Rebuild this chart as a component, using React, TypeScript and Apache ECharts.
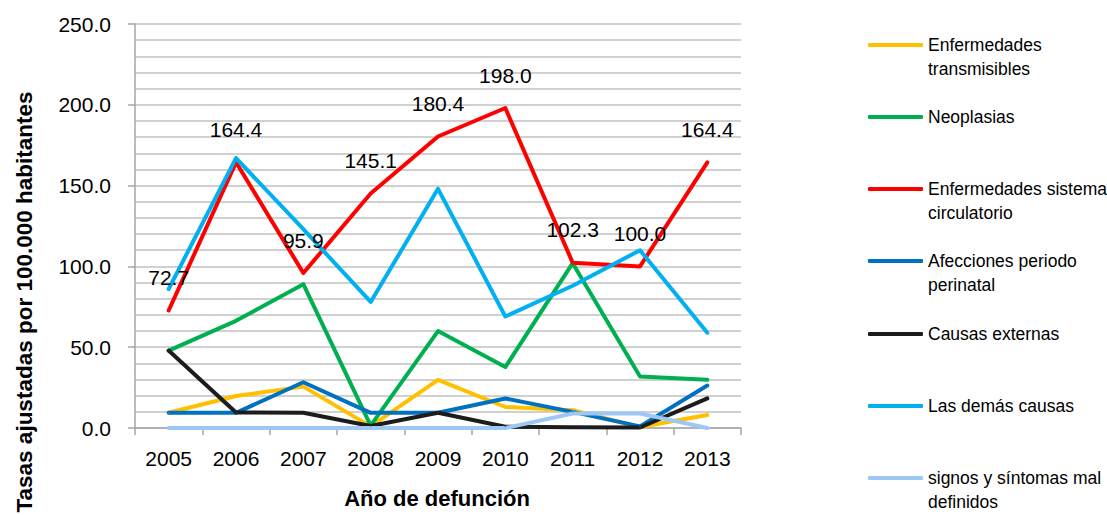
import React, { useEffect, useRef } from "react";
import * as echarts from "echarts";

const years = ["2005", "2006", "2007", "2008", "2009", "2010", "2011", "2012", "2013"];
const transmisibles = [9.4, 19.8, 25.6, 1.0, 29.8, 13.0, 11.0, 0.6, 8.0];
const neoplasias = [47.9, 66.3, 89.0, 1.5, 60.0, 37.7, 102.0, 31.9, 29.8];
const circulatorio = [72.7, 164.4, 95.9, 145.1, 180.4, 198.0, 102.3, 100.0, 164.4];
const perinatal = [9.4, 9.4, 28.3, 9.4, 9.4, 18.3, 10.0, 1.0, 26.3];
const externas = [47.9, 9.6, 9.4, 1.2, 9.4, 0.8, 0.4, 0.3, 18.3];
const demas = [86.0, 167.0, 123.0, 78.0, 148.0, 69.0, 88.0, 110.0, 59.0];
const signos = [0, 0, 0, 0, 0, 0, 9.0, 9.0, 0];

const seriesNames = [
  "Enfermedades transmisibles",
  "Neoplasias",
  "Enfermedades sistema circulatorio",
  "Afecciones periodo perinatal",
  "Causas externas",
  "Las demás causas",
  "signos y síntomas mal definidos",
];
const legendLabels = [
  "Enfermedades\ntransmisibles",
  "Neoplasias",
  "Enfermedades sistema\ncirculatorio",
  "Afecciones periodo\nperinatal",
  "Causas externas",
  "Las demás causas",
  "signos y síntomas mal\ndefinidos",
];
const seriesData = [transmisibles, neoplasias, circulatorio, perinatal, externas, demas, signos];
const colors = ["#FFC000", "#00B050", "#FF0000", "#0070C0", "#1C1C1C", "#00B0F0", "#9DC8F5"];
const yTicks = [0, 50, 100, 150, 200, 250];
const xTitle = "Año de defunción";
const yTitle = "Tasas ajustadas por 100.000 habitantes";

const legendCenters = [45, 117, 189, 261, 334, 406, 478];

export default function App() {
  const ref = useRef<HTMLDivElement>(null);
  useEffect(() => {
    document.body.style.margin = "0";
    if (!ref.current) return;
    const chart = echarts.init(ref.current, null, { renderer: "svg" });
    const font = "'Liberation Sans', Arial, sans-serif";
    const labelMap: Record<string, string> = {};
    seriesNames.forEach((n, i) => {
      const l = legendLabels[i];
      labelMap[n] = l.includes("\n") ? "\n" + l : l;
    });

    const legends = seriesNames.map((name, i) => {
      const twoLine = legendLabels[i].includes("\n");
      return {
        data: [name],
        left: 868,
        top: legendCenters[i] - (twoLine ? 36 : 12),
        padding: 0,
        icon: "roundRect",
        itemWidth: 55,
        itemHeight: 4,
        itemGap: 5,
        selectedMode: false,
        formatter: (n: string) => labelMap[n],
        textStyle: {
          fontFamily: font,
          fontSize: 17.5,
          color: "#000",
          lineHeight: 24,
        },
      };
    });

    chart.setOption({
      animation: false,
      backgroundColor: "#fff",
      textStyle: { fontFamily: font },
      grid: { left: 135, right: 366, top: 24, bottom: 87, containLabel: false },
      legend: legends,
      xAxis: {
        type: "category",
        data: years,
        boundaryGap: true,
        axisLine: { show: true, lineStyle: { color: "#a6a6a6", width: 1.5 } },
        axisTick: { show: true, length: 7, lineStyle: { color: "#a6a6a6", width: 1.5 } },
        axisLabel: { fontSize: 21, color: "#000", margin: 20, fontFamily: font },
        splitLine: { show: false },
      },
      yAxis: {
        type: "value",
        min: yTicks[0],
        max: yTicks[yTicks.length - 1],
        interval: 50,
        axisLine: { show: true, lineStyle: { color: "#a6a6a6", width: 1.5 } },
        axisTick: { show: true, length: 7, lineStyle: { color: "#a6a6a6", width: 1.5 } },
        axisLabel: {
          fontSize: 21,
          color: "#000",
          margin: 24,
          fontFamily: font,
          formatter: (v: number) => v.toFixed(1),
        },
        splitLine: { show: true, lineStyle: { color: "#d0d0d0", width: 2 } },
        minorTick: { show: false, splitNumber: 5 },
        minorSplitLine: { show: true, lineStyle: { color: "#d0d0d0", width: 2 } },
      },
      graphic: [
        {
          type: "text",
          x: 24,
          y: 302,
          rotation: Math.PI / 2,
          style: {
            text: yTitle,
            font: `bold 22.5px ${font}`,
            fill: "#000",
            align: "center",
            verticalAlign: "middle",
          },
        },
        {
          type: "text",
          x: 437,
          y: 498,
          style: {
            text: xTitle,
            font: `bold 22px ${font}`,
            fill: "#000",
            align: "center",
            verticalAlign: "middle",
          },
        },
      ],
      series: seriesNames.map((name, i) => ({
        name,
        type: "line",
        data: seriesData[i],
        symbol: "circle",
        symbolSize: 1,
        showSymbol: true,
        itemStyle: { color: colors[i] },
        lineStyle: { color: colors[i], width: 4, cap: "round", join: "round" },
        label:
          i === 2
            ? {
                show: true,
                position: "top",
                distance: 22,
                color: "#000",
                fontSize: 21,
                fontFamily: font,
                formatter: (p: any) => Number(p.value).toFixed(1),
              }
            : { show: false },
        emphasis: { disabled: true },
      })),
    });
    return () => chart.dispose();
  }, []);
  return <div ref={ref} style={{ width: 1107, height: 515 }} />;
}
